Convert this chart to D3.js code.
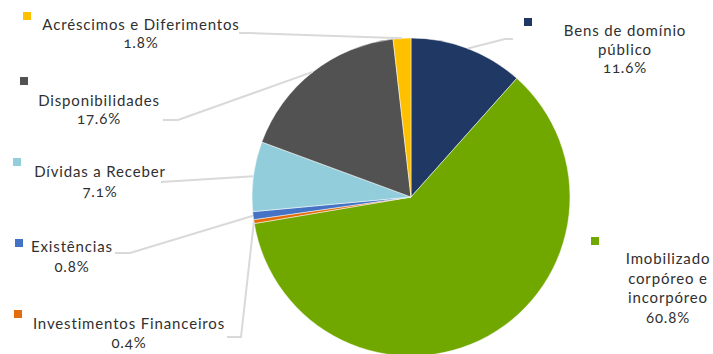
<!DOCTYPE html>
<html>
<head>
<meta charset="utf-8">
<title>Ativo</title>
<style>
  body { margin: 0; background: #fff; }
  svg text { font-family: Lato, "Open Sans", sans-serif; font-size: 15px; fill: #303030; letter-spacing: 0.85px; font-variant-numeric: oldstyle-nums; }
</style>
</head>
<body>
<div id="chart"></div>
<script src="https://cdn.jsdelivr.net/npm/d3@7"></script>
<script>
// data, clockwise from 12 o'clock
var categories = ['Bens de domínio público', 'Imobilizado corpóreo e incorpóreo', 'Investimentos Financeiros',
  'Existências', 'Dívidas a Receber', 'Disponibilidades', 'Acréscimos e Diferimentos'];
var values = [11.6, 60.8, 0.4, 0.8, 7.1, 17.6, 1.8];
var valueLabels = ['11.6%', '60.8%', '0.4%', '0.8%', '7.1%', '17.6%', '1.8%'];
var colors = ['#1F3864', '#70A800', '#E46C0A', '#4472C4', '#92CDDC', '#525252', '#FFC000'];

// label layout (positions only): text lines, text centre, first baseline, marker, leader start points
var layout = [
  { lines: ['Bens de domínio', 'público'], x: 625, y: 36, dy: 18.5, mx: 524, my: 18, leader: [[513, 39], [505, 39]] },
  { lines: ['Imobilizado', 'corpóreo e', 'incorpóreo'], x: 668, y: 264, dy: 19.5, mx: 591, my: 237, leader: null },
  { lines: ['Investimentos Financeiros'], x: 129, y: 329, dy: 19, mx: 14, my: 310, leader: [[227, 337], [241, 337]] },
  { lines: ['Existências'], x: 72, y: 252, dy: 20, mx: 15, my: 239, leader: [[115, 253], [130, 253]] },
  { lines: ['Dívidas a Receber'], x: 100, y: 177, dy: 20, mx: 13, my: 158, leader: [[161, 182]] },
  { lines: ['Disponibilidades'], x: 99, y: 106, dy: 18, mx: 20, my: 77, leader: [[163, 120], [178, 120]] },
  { lines: ['Acréscimos e Diferimentos'], x: 141, y: 30, dy: 18, mx: 23, my: 12, leader: [[239, 33], [250, 33]] }
];

var width = 713, height = 354;
var cx = 411, cy = 197, r = 159;

var svg = d3.select('#chart').append('svg')
  .attr('width', width)
  .attr('height', height);

var pie = d3.pie().sort(null).value(function(d){ return d; });
var arcs = pie(values);
var arc = d3.arc().innerRadius(0).outerRadius(r);

var g = svg.append('g').attr('transform', 'translate(' + cx + ',' + cy + ')');

// leader lines first so the slices sit on top
var line = d3.line();
arcs.forEach(function(a, i){
  var lay = layout[i];
  if (!lay.leader) return;
  var mid = (a.startAngle + a.endAngle) / 2;
  var end = [cx + r * Math.sin(mid), cy - r * Math.cos(mid)];
  svg.append('path')
    .attr('d', line(lay.leader.concat([end])))
    .attr('fill', 'none')
    .attr('stroke', '#D9D9D9')
    .attr('stroke-width', 2);
});

g.selectAll('.slice')
  .data(arcs)
  .enter()
  .append('path')
  .attr('class', 'slice')
  .attr('d', arc)
  .attr('fill', function(d, i){ return colors[i]; })
  .attr('stroke', '#fff')
  .attr('stroke-width', 0.5);

var labels = svg.selectAll('.lbl')
  .data(layout)
  .enter()
  .append('g')
  .attr('class', 'lbl');

labels.append('rect')
  .attr('x', function(d){ return d.mx; })
  .attr('y', function(d){ return d.my; })
  .attr('width', 8)
  .attr('height', 8)
  .attr('fill', function(d, i){ return colors[i]; });

labels.each(function(d, i){
  var t = d3.select(this).append('text').attr('text-anchor', 'middle');
  d.lines.concat([valueLabels[i]]).forEach(function(s, k){
    t.append('tspan')
      .attr('x', d.x)
      .attr('y', d.y + k * d.dy)
      .text(s);
  });
});
</script>
</body>
</html>
